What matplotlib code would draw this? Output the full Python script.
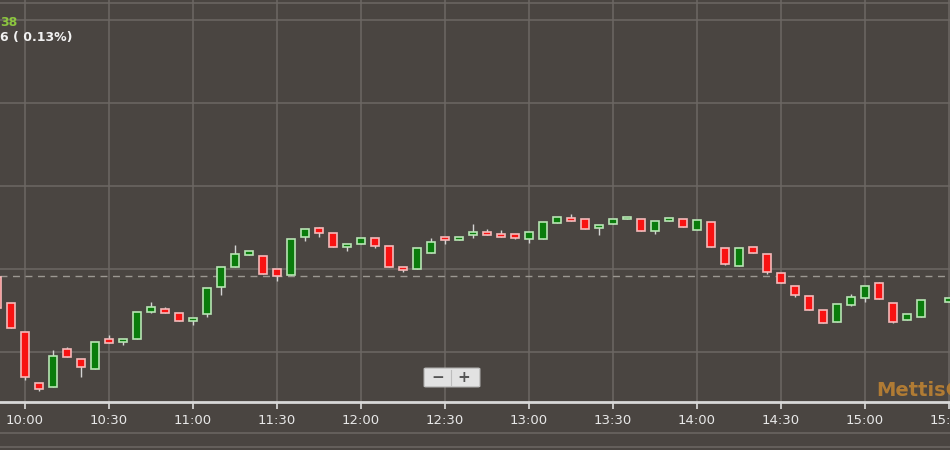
import matplotlib
matplotlib.use("Agg")
import matplotlib.pyplot as plt
from matplotlib.lines import Line2D
from matplotlib.patches import FancyBboxPatch

# 5-minute candles (last one at 15:30, 15:25 has no bar)
times = ["09:50", "09:55", "10:00", "10:05", "10:10", "10:15", "10:20", "10:25",
         "10:30", "10:35", "10:40", "10:45", "10:50", "10:55", "11:00", "11:05",
         "11:10", "11:15", "11:20", "11:25", "11:30", "11:35", "11:40", "11:45",
         "11:50", "11:55", "12:00", "12:05", "12:10", "12:15", "12:20", "12:25",
         "12:30", "12:35", "12:40", "12:45", "12:50", "12:55", "13:00", "13:05",
         "13:10", "13:15", "13:20", "13:25", "13:30", "13:35", "13:40", "13:45",
         "13:50", "13:55", "14:00", "14:05", "14:10", "14:15", "14:20", "14:25",
         "14:30", "14:35", "14:40", "14:45", "14:50", "14:55", "15:00", "15:05",
         "15:10", "15:15", "15:20", "15:30"]
opens = [41990.4, 41959.0, 41924.1, 41862.7, 41857.8, 41903.6, 41891.6, 41879.5,
         41915.7, 41912.0, 41915.7, 41948.2, 41951.8, 41947.0, 41937.4, 41945.8,
         41978.3, 42002.4, 42016.9, 42015.7, 42000.0, 41992.8, 42038.6, 42049.4,
         42043.4, 42026.5, 42030.1, 42037.3, 42027.7, 42002.4, 42000.0, 42019.3,
         42038.6, 42034.9, 42041.0, 42044.6, 42042.2, 42042.2, 42036.1, 42036.1,
         42055.4, 42061.4, 42060.2, 42049.4, 42054.2, 42060.2, 42060.2, 42045.8,
         42057.8, 42060.2, 42047.0, 42056.6, 42025.3, 42003.6, 42026.5, 42018.1,
         41995.2, 41979.5, 41967.5, 41950.6, 41936.1, 41956.6, 41965.1, 41983.1,
         41959.0, 41938.6, 41942.2, 41960.2]
highs = [41990.4, 41959.0, 41924.1, 41862.7, 41902.4, 41906.0, 41891.6, 41912.0,
         41920.5, 41915.7, 41948.2, 41960.2, 41954.2, 41947.0, 41941.0, 41977.1,
         42002.4, 42028.9, 42021.7, 42015.7, 42000.0, 42036.1, 42048.2, 42050.6,
         42043.4, 42030.1, 42037.3, 42037.3, 42027.7, 42002.4, 42025.3, 42037.3,
         42038.6, 42038.6, 42054.2, 42048.2, 42047.0, 42042.2, 42044.6, 42056.6,
         42062.6, 42066.3, 42060.2, 42053.0, 42060.2, 42062.6, 42060.2, 42057.8,
         42061.4, 42060.2, 42059.0, 42056.6, 42025.3, 42025.3, 42026.5, 42018.1,
         41995.2, 41979.5, 41967.5, 41950.6, 41957.8, 41969.9, 41979.5, 41984.3,
         41959.0, 41945.8, 41962.7, 41965.1]
lows = [41953.0, 41928.9, 41866.3, 41853.0, 41857.8, 41894.0, 41869.9, 41879.5,
        41910.8, 41908.4, 41915.7, 41947.0, 41947.0, 41937.4, 41932.5, 41942.2,
        41968.7, 42002.4, 42016.9, 41994.0, 41985.5, 41992.8, 42033.7, 42038.6,
        42026.5, 42021.7, 42030.1, 42025.3, 42002.4, 41996.4, 42000.0, 42019.3,
        42030.1, 42034.9, 42037.3, 42041.0, 42038.6, 42036.1, 42031.3, 42036.1,
        42055.4, 42057.8, 42048.2, 42041.0, 42054.2, 42060.2, 42045.8, 42042.2,
        42057.8, 42050.6, 42047.0, 42026.5, 42004.8, 42003.6, 42019.3, 41994.0,
        41983.1, 41966.3, 41950.6, 41934.9, 41936.1, 41955.4, 41960.2, 41963.9,
        41934.9, 41938.6, 41942.2, 41960.2]
closes = [41953.0, 41928.9, 41869.9, 41855.4, 41895.2, 41894.0, 41881.9, 41912.0,
          41910.8, 41915.7, 41948.2, 41954.2, 41947.0, 41937.4, 41941.0, 41977.1,
          42002.4, 42018.1, 42021.7, 41994.0, 41991.6, 42036.1, 42048.2, 42043.4,
          42026.5, 42030.1, 42037.3, 42027.7, 42002.4, 41998.8, 42025.3, 42032.5,
          42034.9, 42038.6, 42044.6, 42041.0, 42038.6, 42037.3, 42044.6, 42056.6,
          42062.6, 42057.8, 42048.2, 42053.0, 42060.2, 42062.6, 42045.8, 42057.8,
          42061.4, 42050.6, 42059.0, 42026.5, 42006.0, 42025.3, 42019.3, 41996.4,
          41983.1, 41968.7, 41950.6, 41934.9, 41957.8, 41966.3, 41979.5, 41963.9,
          41936.1, 41945.8, 41962.7, 41965.1]
prev_close = 41991.6
tick_labels = ["10:00", "10:30", "11:00", "11:30", "12:00", "12:30",
               "13:00", "13:30", "14:00", "14:30", "15:00", "15:30"]

BG = "#4a4541"
GRID = "#6d6864"
UP_FILL, UP_EDGE = "#0a7c0c", "#b8e4b4"
DN_FILL, DN_EDGE = "#f81212", "#f5b9b9"


def to_min(s):
    h, m = s.split(":")
    return int(h) * 60 + int(m)


x = [to_min(t) for t in times]
ticks = [to_min(t) for t in tick_labels]

fig = plt.figure(figsize=(9.5, 4.5), dpi=100, facecolor=BG)
ax = fig.add_axes([0, 48 / 450, 1, 402 / 450])
ax.set_facecolor(BG)

# scale: 10:00 at 25px, 14px per 5 minutes
ax.set_xlim(600 - 25 * 5 / 14, 600 + 925 * 5 / 14)
ax.set_ylim(42000 - 133 * 100 / 83, 42000 + 269 * 100 / 83)

ax.set_yticks([41900, 42000, 42100, 42200, 42300])
ax.set_xticks(ticks)
ax.set_xticklabels(tick_labels, color="#e8e8e8", fontsize=9.5)
ax.tick_params(axis="x", length=5, width=1.2, color="#dddddd", pad=4)
ax.tick_params(axis="y", length=0, labelleft=False)
ax.grid(True, color=GRID, linewidth=1.1)
ax.set_axisbelow(True)
for side in ["top", "left", "right"]:
    ax.spines[side].set_visible(False)
ax.spines["bottom"].set_color("#d8d8d8")
ax.spines["bottom"].set_linewidth(2)

ax.axhline(prev_close, color="#9c9892", linewidth=1, linestyle=(0, (5, 4)), zorder=1)

# candles
width = 3.2
for xi, o, h, l, c in zip(x, opens, highs, lows, closes):
    up = c >= o
    ax.vlines(xi, l, h, color="#d4d4d4", linewidth=1, zorder=2)
    bottom = min(o, c)
    height = max(abs(c - o), 1.5)
    ax.bar(xi, height, width=width, bottom=bottom,
           color=UP_FILL if up else DN_FILL,
           edgecolor=UP_EDGE if up else DN_EDGE, linewidth=1.2, zorder=3)

# header text (cut at left edge)
fig.text(0.0, 1 - 23 / 450, "38", color="#8cc63f", fontsize=9, fontweight="bold",
         va="center", ha="left")
fig.text(0.0, 1 - 37 / 450, "6 ( 0.13%)", color="#f2f2f2", fontsize=9,
         fontweight="bold", va="center", ha="left")

# zoom buttons
btn = FancyBboxPatch((426 / 950, 1 - 386 / 450), 52 / 950, 17 / 450,
                     boxstyle="round,pad=0.002", transform=fig.transFigure,
                     facecolor="#e2e2e2", edgecolor="#bdbdbd", linewidth=0.8, zorder=5)
fig.add_artist(btn)
fig.add_artist(Line2D([451 / 950, 451 / 950], [1 - 385 / 450, 1 - 370 / 450],
                      color="#bdbdbd", linewidth=0.8, zorder=6))
fig.text(438 / 950, 1 - 377.5 / 450, "−", color="#555555", fontsize=11,
         fontweight="bold", ha="center", va="center", zorder=7)
fig.text(464 / 950, 1 - 377.5 / 450, "+", color="#555555", fontsize=11,
         fontweight="bold", ha="center", va="center", zorder=7)

# watermark (runs off the right edge, as in the source)
fig.text(876 / 950, 1 - 390 / 450, "MettisGlobal", color="#b07b34", fontsize=14,
         fontweight="bold", ha="left", va="center")

# frame lines above and below the plot area
for yy in [3, 433, 447]:
    fig.add_artist(Line2D([0, 1], [1 - yy / 450, 1 - yy / 450], color=GRID, linewidth=1.1))

fig.savefig("out.png", dpi=100, facecolor=BG)
